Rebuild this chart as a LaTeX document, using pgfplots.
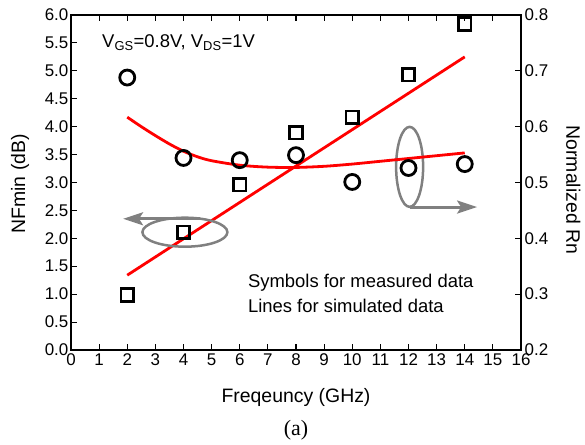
\documentclass[border=0pt]{standalone}
\usepackage{pgfplots}
\pgfplotsset{compat=1.18}
\usetikzlibrary{arrows.meta}
\usepackage{fontspec}
\setmainfont{Liberation Sans}
\newfontfamily\timesfont{Liberation Serif}
\definecolor{annogray}{RGB}{128,128,128}
\begin{document}
\begin{tikzpicture}
\pgfplotsset{
  every axis/.append style={
    scale only axis, width=450bp, height=335bp,
    xmin=0, xmax=16,
    tick align=inside, major tick length=6bp,
    /pgf/number format/assume math mode=true,
    tick label style={font=\fontsize{17}{19}\selectfont},
    label style={font=\fontsize{19.5}{22}\selectfont},
    axis line style={line width=1.1bp},
    every tick/.style={line width=1.1bp, black},
  }
}
\begin{axis}[
  ymin=0, ymax=6,
  xtick={0,...,16}, ytick={0,0.5,...,6},
  ytick pos=left, xtick pos=both,
  xticklabel style={inner sep=3.5pt},
  yticklabel style={inner sep=2.5pt, /pgf/number format/.cd, fixed, fixed zerofill, precision=1},
  xlabel={Freqeuncy (GHz)}, ylabel={NFmin (dB)},
  xlabel style={at={(axis description cs:0.5,-0.143)}, anchor=center},
  ylabel style={at={(axis description cs:-0.113,0.496)}, anchor=center},
  clip=false,
]
\addplot[only marks, mark=square, mark size=6.2bp, line width=2.8bp, black]
  coordinates {(2,0.985) (4,2.11) (6,2.96) (8,3.89) (10,4.17) (12,4.93) (14,5.84)};
\addplot[red, line width=2.8bp] coordinates {(2,1.34) (14,5.25)};
\draw[annogray, line width=2.5bp] (axis cs:4.05,2.11) ellipse [x radius=42.5bp, y radius=14.5bp];
\draw[annogray, line width=3bp, -{Stealth[length=20bp, width=13bp, inset=4bp]}] (axis cs:4.59,2.35) -- (axis cs:1.85,2.35);
\draw[annogray, line width=2.5bp] (axis cs:12.04,3.28) ellipse [x radius=13.5bp, y radius=40bp];
\draw[annogray, line width=3bp, -{Stealth[length=20bp, width=13bp, inset=4bp]}] (axis cs:12.04,2.56) -- (axis cs:14.44,2.56);
\node[anchor=base west, font=\fontsize{18.5}{21}\selectfont, inner sep=0pt] at (axis description cs:0.069,0.904) {V\textsubscript{GS}=0.8V, V\textsubscript{DS}=1V};
\node[anchor=base west, font=\fontsize{18.5}{21}\selectfont, inner sep=0pt] at (axis description cs:0.393,0.188) {Symbols for measured data};
\node[anchor=base west, font=\fontsize{18.5}{21}\selectfont, inner sep=0pt] at (axis description cs:0.393,0.113) {Lines for simulated data};
\node[anchor=center, font=\timesfont\fontsize{22}{24}\selectfont] at (axis description cs:0.5,-0.239) {(a)};
\end{axis}
\begin{axis}[
  ymin=0.2, ymax=0.8,
  axis y line*=right, axis x line=none,
  ytick={0.2,0.3,...,0.8},
  yticklabel style={inner sep=3.5pt, /pgf/number format/.cd, fixed, fixed zerofill, precision=1},
  ylabel={Normalized Rn},
  ylabel style={at={(axis description cs:1.116,0.478)}, anchor=center, rotate=180},
  clip=false,
]
\addplot[only marks, mark=o, mark size=7.5bp, line width=2.8bp, black]
  coordinates {(2,0.688) (4,0.544) (6,0.540) (8,0.549) (10,0.501) (12,0.526) (14,0.533)};
\addplot[red, line width=2.8bp, smooth] coordinates {
  (2,0.617) (2.5,0.600) (3,0.584) (3.5,0.569) (4,0.556) (4.5,0.546) (5,0.539)
  (6,0.531) (7,0.5275) (8,0.527) (9,0.529) (10,0.533) (11,0.538) (12,0.543)
  (13,0.548) (14,0.553)};
\end{axis}
\pgfresetboundingbox
\path ([shift={(-71bp,-95bp)}]current axis.south west) rectangle ([shift={(64bp,15bp)}]current axis.north east);
\end{tikzpicture}
\end{document}
